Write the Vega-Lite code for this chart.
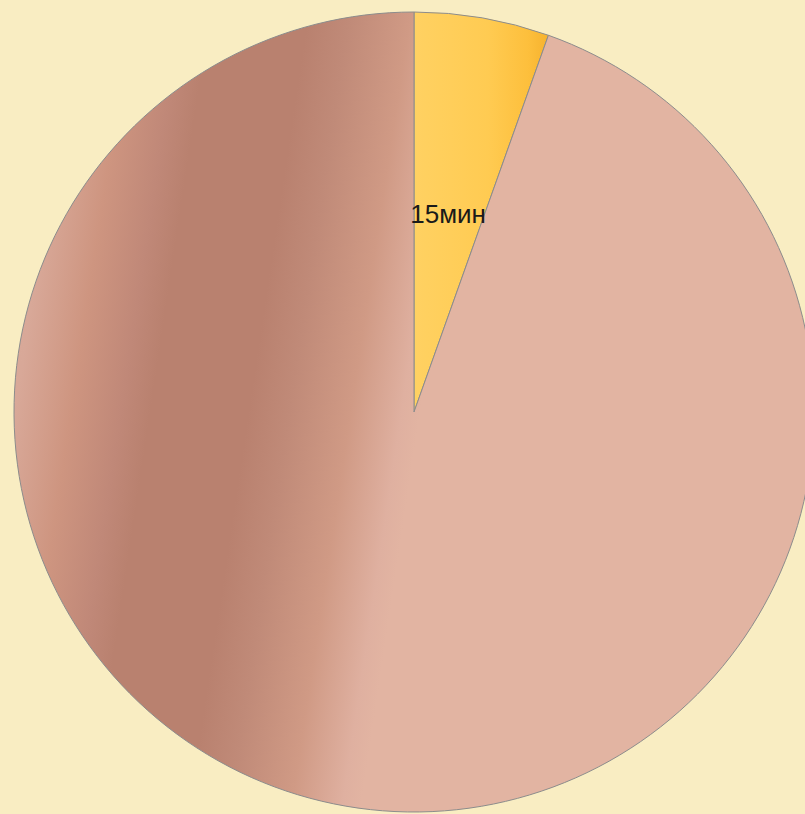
{
  "$schema": "https://vega.github.io/schema/vega-lite/v6.json",
  "autosize": "none",
  "width": 784,
  "height": 806,
  "padding": {"left": 22, "top": 9, "right": 0, "bottom": 0},
  "background": "#F9EDC2",
  "config": {"view": {"stroke": null}},
  "data": {
    "values": [
      {"cat": "15мин", "value": 15},
      {"cat": "остальное", "value": 260}
    ]
  },
  "layer": [
    {
      "mark": {"type": "arc", "outerRadius": 400, "stroke": "#8C8C8C", "strokeWidth": 1},
      "encoding": {
        "theta": {"field": "value", "type": "quantitative", "stack": true},
        "color": {
          "condition": {
            "test": "datum.value == 15",
            "value": {
              "gradient": "linear", "x1": 0, "y1": 0, "x2": 1, "y2": 0,
              "stops": [
                {"offset": 0, "color": "#FFD162"},
                {"offset": 0.55, "color": "#FFCB52"},
                {"offset": 0.85, "color": "#FDBF3C"},
                {"offset": 1, "color": "#F6B22E"}
              ]
            }
          },
          "value": {
            "gradient": "linear", "x1": 0, "y1": 0, "x2": 1, "y2": 0.15,
            "stops": [
              {"offset": 0, "color": "#DCAE9E"},
              {"offset": 0.075, "color": "#D8A898"},
              {"offset": 0.143, "color": "#CE9580"},
              {"offset": 0.204, "color": "#C08878"},
              {"offset": 0.24, "color": "#B9816F"},
              {"offset": 0.36, "color": "#B9816F"},
              {"offset": 0.41, "color": "#C08A78"},
              {"offset": 0.485, "color": "#D09A85"},
              {"offset": 0.547, "color": "#DFB0A0"},
              {"offset": 0.57, "color": "#E2B4A2"},
              {"offset": 1, "color": "#E2B4A2"}
            ]
          }
        }
      }
    },
    {
      "mark": {"type": "text", "radius": 200, "font": "Liberation Sans", "fontSize": 26, "color": "#1A1A1A"},
      "encoding": {
        "theta": {"field": "value", "type": "quantitative", "stack": true},
        "text": {
          "condition": {"test": "datum.value == 15", "field": "cat"},
          "value": ""
        }
      }
    }
  ]
}
